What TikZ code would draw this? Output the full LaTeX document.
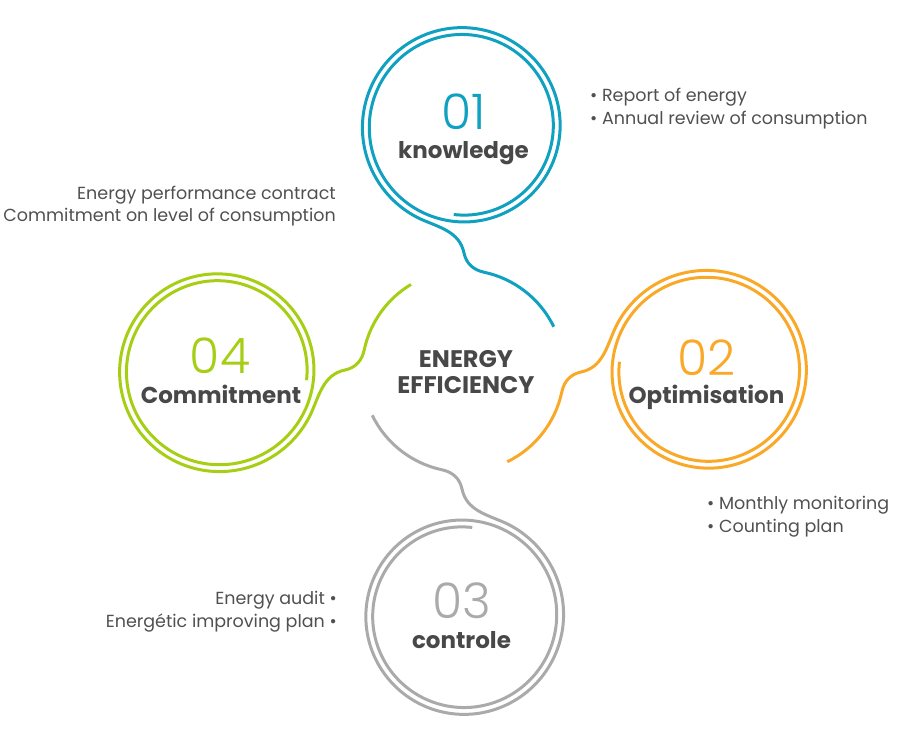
\documentclass[tikz,border=0pt]{standalone}
\usepackage{fontspec}
\setmainfont{Poppins}
\newfontfamily\lightfont{Poppins Light}
\definecolor{kblue}{RGB}{16,160,192}
\definecolor{korange}{RGB}{250,168,40}
\definecolor{kgreen}{RGB}{166,206,20}
\definecolor{kgray}{RGB}{170,170,170}
\definecolor{ktext}{RGB}{72,72,72}
\definecolor{kbody}{RGB}{80,80,80}
\newcommand\modpath[2]{%
  \draw[#1, line width=3pt]
    plot[domain=264:965, samples=300] ({(88.5+0.019*(\x-264))*cos(\x)}, {244.5+(88.5+0.019*(\x-264))*sin(\x)})
    to[out=-24,in=102] (1,118)
    to[out=-78,in=168] (78:101)
    arc[start angle=78, end angle=#2, radius=101pt];
}
\begin{document}
\begin{tikzpicture}[x=1pt,y=1pt,
  digit/.style={font=\lightfont\fontsize{49}{49}\selectfont, inner sep=0pt, anchor=base},
  label/.style={font=\bfseries\fontsize{23}{23}\selectfont, text=ktext, inner sep=0pt, anchor=base},
  bodyw/.style={font=\fontsize{17.5}{17.5}\selectfont, text=kbody, inner sep=0pt, anchor=base west},
  bodye/.style={font=\fontsize{17.5}{17.5}\selectfont, text=kbody, inner sep=0pt, anchor=base east},
  center/.style={font=\bfseries\fontsize{24}{24}\selectfont, text=ktext, inner sep=0pt, anchor=base}]
\useasboundingbox (-463,-371) rectangle (457,371);
\modpath{kblue}{26}
\begin{scope}[rotate=-90]\modpath{korange}{26}\end{scope}
\begin{scope}[rotate=180]\modpath{kgray}{26}\end{scope}
\begin{scope}[rotate=90]\modpath{kgreen}{31}\end{scope}

\node[center] (ce1) at (3,3.5) {ENERGY};
\node[center] (ce2) at (3,-22) {EFFICIENCY};

\node[digit, text=kblue] (d1) at (1,241.5) {01};
\node[label] (l1) at (0.5,212.5) {knowledge};
\node[digit, text=korange] (d2) at (243.5,-4.2) {02};
\node[label] (l2) at (243.5,-32.5) {Optimisation};
\node[digit, text=kgray] (d3) at (-1.3,-247.5) {03};
\node[label] (l3) at (-1.5,-277) {controle};
\node[digit, text=kgreen] (d4) at (-243,-2.5) {04};
\node[label] (l4) at (-242,-32) {Commitment};

\node[bodyw] (t1) at (127,269.3) {\textbullet\ Report of energy};
\node[bodyw] (t2) at (127,246.5) {\textbullet\ Annual review of consumption};
\node[bodye] (t3) at (-127,171.7) {Energy performance contract};
\node[bodye] (t4) at (-127,149.3) {Commitment on level of consumption};
\node[bodyw] (t5) at (244,-138.5) {\textbullet\ Monthly monitoring};
\node[bodyw] (t6) at (244,-161.5) {\textbullet\ Counting plan};
\node[bodye] (t7) at (-126,-233) {Energy audit \textbullet};
\node[bodye] (t8) at (-126,-256.3) {Energétic improving plan \textbullet};
\end{tikzpicture}
\end{document}
